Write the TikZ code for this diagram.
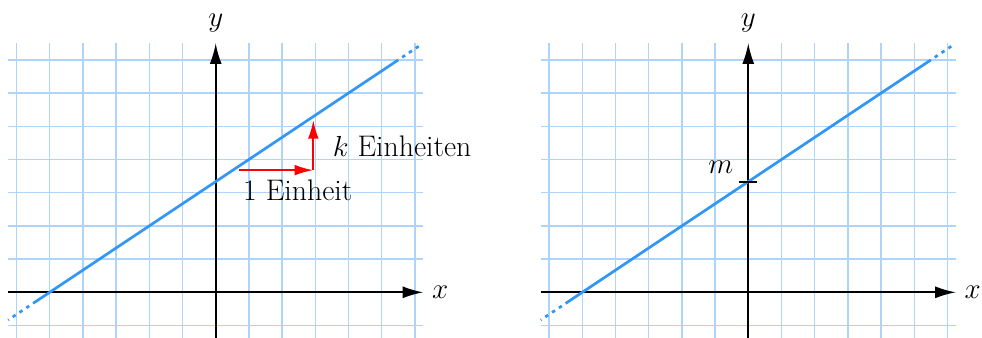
\documentclass[tikz,border=0pt]{standalone}
\usetikzlibrary{arrows.meta}
\definecolor{gridblue}{RGB}{175,212,250}
\definecolor{lineblue}{RGB}{50,150,245}
\tikzset{
  gridline/.style={draw=gridblue, line width=1.3pt},
  axis/.style={draw=black, line width=1.5pt, -{Latex[length=6.2mm,width=3.6mm]}},
  graphline/.style={draw=lineblue, line width=2.3pt},
  graphdash/.style={draw=lineblue, line width=2.3pt, dash pattern=on 3pt off 4pt, dash phase=3pt},
  redarrow/.style={draw=red, line width=1.7pt, -{Latex[length=5.6mm,width=3.2mm]}},
  lbl/.style={font=\fontsize{25.5}{30}\selectfont, inner sep=0pt},
}
\begin{document}
\begin{tikzpicture}
\useasboundingbox (-6.497,-1.346) rectangle (23.08,8.804);
\foreach \s/\n in {0/a,16.04/b} {
  \begin{scope}[xshift=\s cm]
    \foreach \i in {-6,...,6} \draw[gridline] (\i,-1.4) -- (\i,7.5);
    \foreach \j in {-1,...,7} \draw[gridline] (-6.25,\j) -- (6.25,\j);
    \coordinate (xs\n) at (-6.25,0);
    \coordinate (xe\n) at (6.25,0);
    \coordinate (ys\n) at (0,-1.4);
    \coordinate (ye\n) at (0,7.5);
    \draw[axis] (xs\n) -- (xe\n);
    \draw[axis] (ys\n) -- (ye\n);
    \node[lbl] (xl\n) at (6.76,0) {$x$};
    \node[lbl] (yl\n) at (0,8.1) {$y$};
    \coordinate (ga\n) at (-6.25,-0.8333);
    \coordinate (gb\n) at (-5.5,-0.3333);
    \coordinate (gc\n) at (5.5,7);
    \coordinate (gd\n) at (6.2,7.4667);
    \draw[graphline] (gb\n) -- (gc\n);
    \draw[graphdash] (gb\n) -- (ga\n);
    \draw[graphdash] (gc\n) -- (gd\n);
  \end{scope}
}
% left panel: slope triangle
\coordinate (r0) at (0.71,3.68);
\coordinate (r1) at (2.94,3.68);
\coordinate (r2) at (2.94,5.19);
\draw[redarrow] (r0) -- (r1);
\draw[redarrow] (r1) -- (r2);
\node[lbl, anchor=base west] (kl) at (3.52,4.08) {$k$ Einheiten};
\node[lbl, anchor=base west] (el) at (0.82,2.78) {1 Einheit};
% right panel: intercept
\coordinate (m0) at (15.77,3.333);
\coordinate (m1) at (16.30,3.333);
\draw[black, line width=1.5pt] (m0) -- (m1);
\node[lbl] (ml) at (15.21,3.77) {$m$};
\end{tikzpicture}
\end{document}
